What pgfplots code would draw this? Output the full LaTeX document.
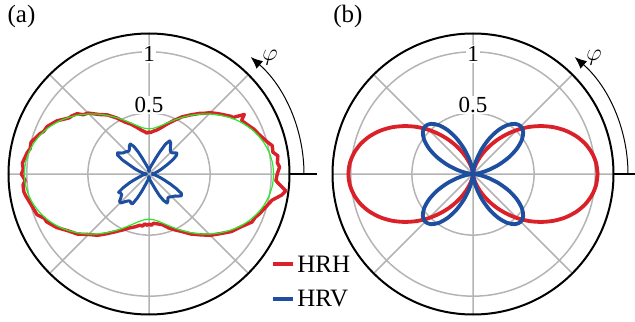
\documentclass[border=0pt]{standalone}
\usepackage{pgfplots}
\pgfplotsset{compat=1.18}
\usepgfplotslibrary{polar}
\usetikzlibrary{arrows.meta}
\usepackage{fontspec}
\setmainfont{Liberation Serif}
\definecolor{myred}{RGB}{218,32,40}
\definecolor{myblue}{RGB}{30,78,160}
\definecolor{mygreen}{RGB}{40,235,40}
\definecolor{mygrid}{RGB}{180,180,180}
\pgfplotsset{
  mypolar/.style={
    anchor=origin, scale only axis, width=140.5bp, height=140.5bp,
    ymin=0, ymax=1.15,
    xtick={0,45,...,315}, ytick={0.5,1},
    xticklabels={}, yticklabels={},
    major tick length=0pt,
    grid=major,
    major grid style={draw=mygrid, line width=0.75bp},
    axis line style={line width=1bp, black},
    y axis line style={draw=none},
    clip=false,
  }
}
\begin{document}
\begin{tikzpicture}
\path[use as bounding box] (0bp,0bp) rectangle (317.5bp,161bp);
% ---------------- panel (a)
\begin{polaraxis}[mypolar, at={(74.5bp,74bp)}]
\addplot[myred, line width=1.7bp, line join=round] coordinates {
(0,1.05)(3,1.07)(5,1.055)(8,1.065)(10,1.03)(13,1.035)(15,1.005)(20,0.955)(23,0.935)(25,0.915)(28,0.89)(30,0.875)(32,0.92)(34,0.826)(35,0.822)(38,0.785)(40,0.763)(45,0.71)(48,0.668)(50,0.648)(55,0.59)(60,0.54)(65,0.483)(70,0.436)(75,0.394)(80,0.365)(85,0.35)(88,0.338)(90,0.345)(93,0.335)(95,0.345)(100,0.365)(105,0.397)(110,0.434)(115,0.47)(120,0.53)(125,0.59)(130,0.636)(135,0.705)(138,0.725)(140,0.768)(143,0.79)(145,0.80)(150,0.87)(155,0.92)(158,0.93)(160,0.955)(165,1.0)(168,0.995)(170,1.012)(175,1.04)(178,1.03)(180,1.045)(183,1.015)(185,1.035)(188,1.035)(190,1.025)(195,0.995)(200,0.975)(203,0.93)(205,0.925)(210,0.875)(215,0.81)(220,0.765)(225,0.70)(230,0.655)(235,0.596)(240,0.545)(245,0.505)(250,0.47)(255,0.448)(260,0.425)(263,0.43)(265,0.41)(268,0.42)(270,0.41)(273,0.42)(275,0.405)(280,0.415)(285,0.43)(290,0.47)(295,0.505)(300,0.545)(305,0.60)(310,0.65)(315,0.71)(320,0.76)(325,0.822)(330,0.867)(335,0.93)(338,0.94)(340,0.96)(345,1.0)(348,1.03)(351,1.10)(353,1.128)(355,1.08)(357,1.04)(360,1.05)
};
\addplot[mygreen, line width=0.6bp, smooth] coordinates {
(0,1.020)(5,1.015)(10,1.000)(15,0.976)(20,0.944)(25,0.904)(30,0.858)(35,0.806)(40,0.751)(45,0.695)(50,0.639)(55,0.584)(60,0.533)(65,0.486)(70,0.446)(75,0.414)(80,0.390)(85,0.375)(90,0.370)
(95,0.375)(100,0.390)(105,0.414)(110,0.446)(115,0.486)(120,0.533)(125,0.584)(130,0.639)(135,0.695)(140,0.751)(145,0.806)(150,0.858)(155,0.904)(160,0.944)(165,0.976)(170,1.000)(175,1.015)(180,1.020)
(185,1.015)(190,1.000)(195,0.976)(200,0.944)(205,0.904)(210,0.858)(215,0.806)(220,0.751)(225,0.695)(230,0.639)(235,0.584)(240,0.533)(245,0.486)(250,0.446)(255,0.414)(260,0.390)(265,0.375)(270,0.370)
(275,0.375)(280,0.390)(285,0.414)(290,0.446)(295,0.486)(300,0.533)(305,0.584)(310,0.639)(315,0.695)(320,0.751)(325,0.806)(330,0.858)(335,0.904)(340,0.944)(345,0.976)(350,1.000)(355,1.015)(360,1.020)
};
\addplot[myblue, line width=1.5bp, line join=round] coordinates {
(0,0.02)(5,0.03)(10,0.05)(15,0.07)(20,0.10)(25,0.14)(28,0.18)(31,0.23)(34,0.27)(37,0.285)(40,0.27)(43,0.255)(46,0.255)(49,0.265)(52,0.285)(55,0.31)(58,0.32)(61,0.28)(64,0.20)(67,0.14)(70,0.10)(75,0.07)(80,0.05)(85,0.03)
(90,0.02)(95,0.03)(100,0.05)(105,0.07)(110,0.10)(113,0.14)(116,0.20)(119,0.26)(122,0.29)(125,0.28)(128,0.26)(131,0.25)(134,0.255)(137,0.265)(140,0.27)(143,0.285)(146,0.31)(149,0.30)(152,0.25)(155,0.18)(160,0.12)(165,0.08)(170,0.05)(175,0.03)
(180,0.02)(185,0.03)(190,0.05)(195,0.07)(200,0.11)(204,0.17)(208,0.24)(211,0.29)(214,0.28)(217,0.28)(220,0.30)(223,0.33)(226,0.33)(229,0.30)(232,0.28)(235,0.27)(238,0.28)(241,0.28)(244,0.22)(247,0.16)(250,0.11)(255,0.07)(260,0.05)(265,0.03)
(270,0.02)(275,0.03)(280,0.05)(285,0.07)(290,0.10)(293,0.14)(296,0.20)(299,0.25)(302,0.28)(305,0.27)(308,0.25)(311,0.25)(314,0.26)(317,0.27)(320,0.28)(323,0.30)(326,0.32)(329,0.31)(332,0.25)(335,0.19)(338,0.14)(342,0.10)(346,0.07)(350,0.05)(355,0.03)(360,0.02)
};
\node[fill=white, inner sep=0.6bp, font=\fontsize{11.5bp}{13bp}\selectfont] at (axis cs:90,0.982) {1};
\node[fill=white, inner sep=0.6bp, font=\fontsize{11.5bp}{13bp}\selectfont] at (axis cs:90,0.565) {0.5};
\end{polaraxis}
% ---------------- panel (b)
\begin{polaraxis}[mypolar, at={(236.5bp,74bp)}]
\addplot[myred, line width=1.9bp, smooth] coordinates {
(0,1.020)(5,1.012)(10,0.989)(15,0.952)(20,0.901)(25,0.838)(30,0.765)(35,0.684)(40,0.599)(45,0.510)(50,0.421)(55,0.336)(60,0.255)(65,0.182)(70,0.119)(75,0.068)(80,0.031)(85,0.008)(90,0)
(95,0.008)(100,0.031)(105,0.068)(110,0.119)(115,0.182)(120,0.255)(125,0.336)(130,0.421)(135,0.510)(140,0.599)(145,0.684)(150,0.765)(155,0.838)(160,0.901)(165,0.952)(170,0.989)(175,1.012)(180,1.020)
(185,1.012)(190,0.989)(195,0.952)(200,0.901)(205,0.838)(210,0.765)(215,0.684)(220,0.599)(225,0.510)(230,0.421)(235,0.336)(240,0.255)(245,0.182)(250,0.119)(255,0.068)(260,0.031)(265,0.008)(270,0)
(275,0.008)(280,0.031)(285,0.068)(290,0.119)(295,0.182)(300,0.255)(305,0.336)(310,0.421)(315,0.510)(320,0.599)(325,0.684)(330,0.765)(335,0.838)(340,0.901)(345,0.952)(350,0.989)(355,1.012)(360,1.020)
};
\addplot[myblue, line width=1.9bp, smooth] coordinates {
(0,0)(5,0.0167)(10,0.0647)(15,0.1383)(20,0.2285)(25,0.3245)(30,0.4148)(35,0.4883)(40,0.5363)(45,0.553)(50,0.5363)(55,0.4883)(60,0.4148)(65,0.3245)(70,0.2285)(75,0.1383)(80,0.0647)(85,0.0167)
(90,0)(95,0.0167)(100,0.0647)(105,0.1383)(110,0.2285)(115,0.3245)(120,0.4148)(125,0.4883)(130,0.5363)(135,0.553)(140,0.5363)(145,0.4883)(150,0.4148)(155,0.3245)(160,0.2285)(165,0.1383)(170,0.0647)(175,0.0167)
(180,0)(185,0.0167)(190,0.0647)(195,0.1383)(200,0.2285)(205,0.3245)(210,0.4148)(215,0.4883)(220,0.5363)(225,0.553)(230,0.5363)(235,0.4883)(240,0.4148)(245,0.3245)(250,0.2285)(255,0.1383)(260,0.0647)(265,0.0167)
(270,0)(275,0.0167)(280,0.0647)(285,0.1383)(290,0.2285)(295,0.3245)(300,0.4148)(305,0.4883)(310,0.5363)(315,0.553)(320,0.5363)(325,0.4883)(330,0.4148)(335,0.3245)(340,0.2285)(345,0.1383)(350,0.0647)(355,0.0167)(360,0)
};
\node[fill=white, inner sep=0.6bp, font=\fontsize{11.5bp}{13bp}\selectfont] at (axis cs:90,0.982) {1};
\node[fill=white, inner sep=0.6bp, font=\fontsize{11.5bp}{13bp}\selectfont] at (axis cs:90,0.565) {0.5};
\end{polaraxis}
% ---------------- decorations
\begin{scope}[x=0.5bp,y=0.5bp]
\foreach \cx in {149,473}{
  \draw[line width=1bp] (\cx+140.5,148) -- (\cx+168,148);
  \draw[line width=0.5bp, -{Latex[length=6bp,width=5bp]}] (\cx+155,148) arc[start angle=0, end angle=49, radius=155];
  \node[font=\fontsize{13bp}{15bp}\selectfont] at (\cx+121,264) {$\varphi$};
}
\node[font=\fontsize{12.5bp}{15bp}\selectfont] at (21.5,306) {(a)};
\node[font=\fontsize{12.5bp}{15bp}\selectfont] at (348,306) {(b)};
% legend
\draw[myred, line width=1.65bp] (273,58) -- (293,58);
\draw[myblue, line width=1.65bp] (273,23) -- (293,23);
\node[anchor=base west, inner sep=0pt, font=\fontsize{12.5bp}{15bp}\selectfont] at (297,49.3) {HRH};
\node[anchor=base west, inner sep=0pt, font=\fontsize{12.5bp}{15bp}\selectfont] at (297,15.3) {HRV};
\end{scope}
\end{tikzpicture}
\end{document}
